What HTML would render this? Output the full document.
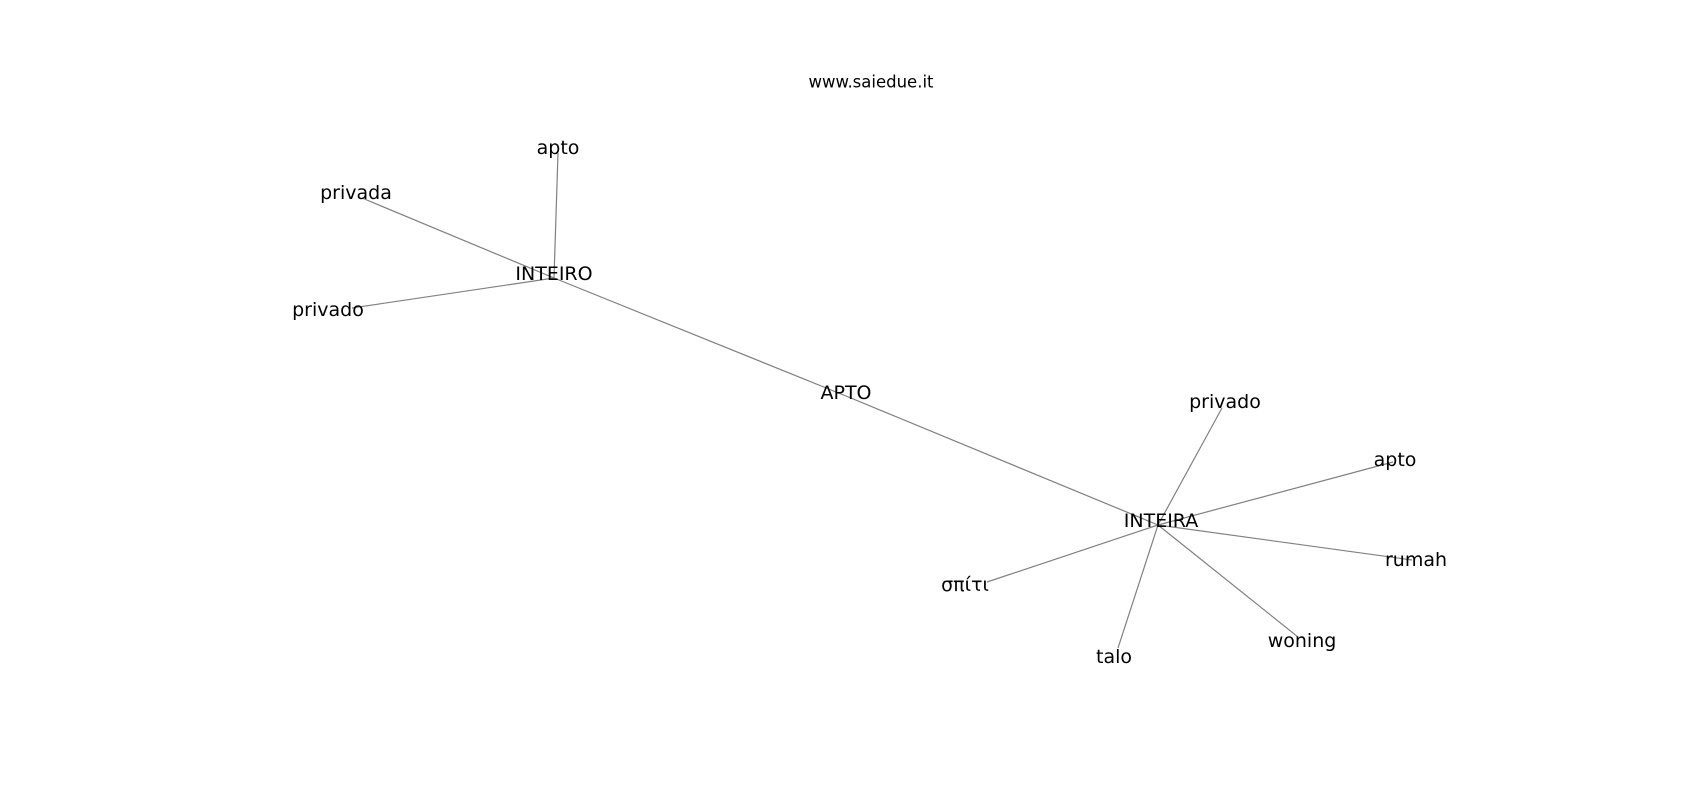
<!DOCTYPE html>
<html><head><meta charset="utf-8"><style>
html,body{margin:0;padding:0;background:#fff;}
svg{display:block;}
text{font-family:"DejaVu Sans","Liberation Sans",sans-serif;fill:#000;}
</style></head><body>
<svg width="1700" height="800" viewBox="0 0 1700 800" xmlns="http://www.w3.org/2000/svg">
<g stroke="#808080" stroke-width="1.2" fill="none">
<line x1="554" y1="278" x2="558" y2="153"/>
<line x1="554" y1="278" x2="362" y2="198"/>
<line x1="554" y1="278" x2="352" y2="308"/>
<line x1="554" y1="278" x2="846" y2="396"/>
<line x1="846" y1="396" x2="1158" y2="525"/>
<line x1="1158" y1="525" x2="1222" y2="408"/>
<line x1="1158" y1="525" x2="1393" y2="462"/>
<line x1="1158" y1="525" x2="1412" y2="560"/>
<line x1="1158" y1="525" x2="1298" y2="637"/>
<line x1="1158" y1="525" x2="1118" y2="648"/>
<line x1="1158" y1="525" x2="987" y2="582"/>
</g>
<g font-size="19" text-anchor="middle" dominant-baseline="central">
<text x="871" y="82" font-size="16.5">www.saiedue.it</text>
<text x="558" y="148">apto</text>
<text x="356" y="193">privada</text>
<text x="328" y="310">privado</text>
<text x="554" y="274">INTEIRO</text>
<text x="846" y="393">APTO</text>
<text x="1161" y="521">INTEIRA</text>
<text x="1225" y="402">privado</text>
<text x="1395" y="460">apto</text>
<text x="1416" y="560">rumah</text>
<text x="1302" y="641">woning</text>
<text x="1114" y="657">talo</text>
<text x="965" y="585">σπίτι</text>
</g>
</svg>
</body></html>
